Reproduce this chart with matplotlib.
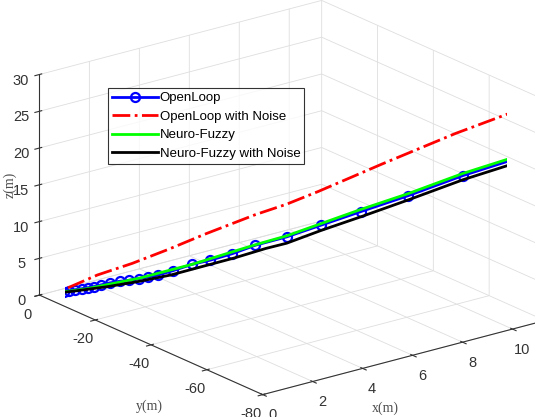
import numpy as np
import matplotlib
matplotlib.use('Agg')
import matplotlib.pyplot as plt

# OpenLoop (marker points)
ol_x = [0.0, 0.05, 0.10, 0.17, 0.24, 0.34, 0.44, 0.56, 0.68, 0.83, 0.97, 1.12, 1.26, 1.41,
        1.63, 1.85, 2.06, 2.28, 2.50, 2.74, 3.08, 3.52, 3.93, 4.44, 4.98, 5.70, 6.48,
        7.40, 8.50, 9.76, 11.29]
ol_y = [0.0, -0.3, -0.6, -1.1, -1.6, -2.2, -2.9, -3.7, -4.5, -5.4, -6.4, -7.4, -8.3, -9.3,
        -10.7, -12.2, -13.6, -15.1, -16.5, -18.1, -20.3, -23.2, -26.0, -29.3, -32.8,
        -37.6, -42.8, -48.9, -56.1, -64.4, -74.5]
ol_z = [0.0, 0.01, 0.02, 0.11, 0.20, 0.29, 0.39, 0.56, 0.73, 0.91, 1.08, 1.26, 1.44, 1.69,
        2.02, 2.29, 2.48, 2.75, 3.01, 3.36, 4.01, 4.97, 5.64, 6.62, 7.89, 9.20, 10.96,
        13.03, 15.44, 18.45, 21.67]

# OpenLoop with Noise
oln_x = [0.0, 0.61, 1.34, 2.14, 2.96, 3.84, 4.98, 5.70, 6.43, 7.89, 9.59, 11.29]
oln_y = [0.0, -4.0, -8.8, -14.1, -19.5, -25.3, -32.8, -37.6, -42.4, -52.1, -63.3, -74.5]
oln_z = [0.0, 1.00, 3.03, 4.79, 6.85, 9.20, 12.05, 13.65, 15.54, 19.60, 24.15, 28.27]

# Neuro-Fuzzy
nf_x = [0.0, 1.09, 2.31, 3.52, 4.98, 5.70, 6.48, 7.40, 8.50, 9.76, 11.29]
nf_y = [0.0, -7.2, -15.2, -23.2, -32.8, -37.6, -42.8, -48.9, -56.1, -64.4, -74.5]
nf_z = [0.0, 1.11, 2.82, 4.97, 7.96, 9.34, 11.17, 13.32, 15.72, 18.74, 21.96]

# Neuro-Fuzzy with Noise
nfn_x = [0.0, 0.85, 1.58, 2.31, 3.03, 3.76, 4.49, 5.22, 5.70, 6.48, 7.40, 8.50, 9.76, 11.29]
nfn_y = [0.0, -5.6, -10.4, -15.2, -20.0, -24.8, -29.6, -34.4, -37.6, -42.8, -48.9, -56.1,
         -64.4, -74.5]
nfn_z = [0.0, 0.77, 1.51, 2.39, 3.42, 4.74, 6.05, 7.51, 8.34, 10.24, 12.32, 14.86, 17.88, 21.10]

x_ticks = [0, 2, 4, 6, 8, 10]
y_ticks = [-80, -60, -40, -20, 0]
z_ticks = [0, 5, 10, 15, 20, 25, 30]

plt.rcParams['font.family'] = ['Liberation Sans', 'DejaVu Sans']
plt.rcParams['axes.unicode_minus'] = False
if 'axes3d.automargin' in plt.rcParams:
    plt.rcParams['axes3d.automargin'] = False

fig = plt.figure(figsize=(5.35, 4.17), dpi=100)
ax = fig.add_axes([0.005, -0.018, 1.06, 1.06], projection='3d', computed_zorder=False)
ax.set_proj_type('ortho')
ax.view_init(elev=20, azim=-127.5)
ax.set_box_aspect((0.97, 1.0, 0.64), zoom=1.235)

ax.plot(ol_x, ol_y, ol_z, '-o', color='blue', lw=2, ms=6.5, mfc='none', mew=1.6,
        label='OpenLoop')
ax.plot(oln_x, oln_y, oln_z, '-.', color='red', lw=2, label='OpenLoop with Noise')
ax.plot(nf_x, nf_y, nf_z, '-', color=(0, 1, 0), lw=2, label='Neuro-Fuzzy')
ax.plot(nfn_x, nfn_y, nfn_z, '-', color='black', lw=2, label='Neuro-Fuzzy with Noise')

ax.set_xlim(0, 11.3)
ax.set_ylim(-80, 0)
ax.set_zlim(0, 30)
ax.set_xticks(x_ticks)
ax.set_yticks(y_ticks)
ax.set_zticks(z_ticks)
ax.tick_params(labelsize=10.5, colors='0.2')
ax.tick_params(axis='x', pad=-1)
ax.tick_params(axis='y', pad=-1)
ax.tick_params(axis='z', pad=-2)

for a in (ax.xaxis, ax.yaxis, ax.zaxis):
    a.set_pane_color((1, 1, 1, 0))
    a.pane.set_edgecolor('0.85')
    a._axinfo['grid']['color'] = '0.87'
    a._axinfo['grid']['linewidth'] = 0.6
    a.line.set_color('0.2')

fig.text(0.018, 0.556, 'z(m)', rotation=90, family='Liberation Serif', fontsize=10,
         color='0.3', ha='center', va='center')
fig.text(0.28, 0.025, 'y(m)', family='Liberation Serif', fontsize=10,
         color='0.3', ha='center', va='center')
fig.text(0.72, 0.022, 'x(m)', family='Liberation Serif', fontsize=10,
         color='0.3', ha='center', va='center')

leg = ax.legend(loc='upper left', bbox_to_anchor=(0.202, 0.789),
                bbox_transform=fig.transFigure, fontsize=9.5, fancybox=False,
                handlelength=3.5, borderpad=0.3, labelspacing=0.48, handletextpad=0.1,
                borderaxespad=0)
leg.get_frame().set_edgecolor('black')
leg.get_frame().set_linewidth(0.8)

fig.savefig('out.png', dpi=100)
